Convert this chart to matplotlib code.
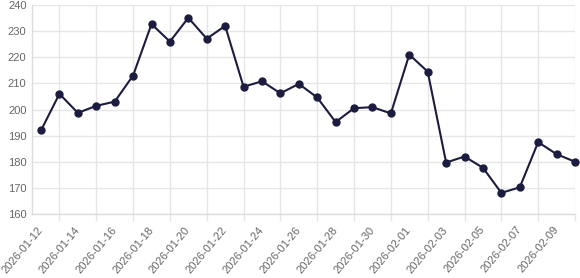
import matplotlib
matplotlib.use("Agg")
import matplotlib.pyplot as plt
import matplotlib.dates as mdates
import numpy as np
from datetime import datetime, timedelta

plt.rcParams['font.family'] = ['Liberation Sans', 'DejaVu Sans']

# daily values
start = datetime(2026, 1, 12)
values = [192, 206, 198.7, 201.4, 203, 213, 232.7, 226, 235.1, 227.1,
          232, 208.7, 210.8, 206.2, 209.8, 204.6, 195.2, 200.5, 200.9, 198.5,
          221, 214.5, 179.7, 182, 177.7, 168.1, 170.2, 187.5, 182.9, 180]
dates = [start + timedelta(days=i) for i in range(len(values))]
label_dates = dates[0::2]
grid_dates = dates[1::2]

grid_col = '#e6e6e6'
line_col = '#1b1c3f'

fig = plt.figure(figsize=(5.8, 2.78), dpi=100)
ax = fig.add_axes([32/580, 1 - 214/278, (575 - 32)/580, (214 - 5)/278])

ax.plot(dates, values, color=line_col, linewidth=1.5, marker='o',
        markersize=5, markeredgewidth=1, markerfacecolor=line_col,
        markeredgecolor=line_col, zorder=3, clip_on=False)

ax.set_xlim(start - timedelta(days=0.49), dates[-1])
ax.set_ylim(160, 240)
ax.set_yticks(np.arange(160, 241, 10))

ax.set_xticks(label_dates)
ax.xaxis.set_major_formatter(mdates.DateFormatter('%Y-%m-%d'))
ax.set_xticks(grid_dates, minor=True)
ax.tick_params(axis='x', which='major', length=0, pad=10, labelsize=8, labelcolor='#666666')
ax.tick_params(axis='x', which='minor', length=5, color=grid_col, width=1)
ax.tick_params(axis='y', length=0, pad=4, labelsize=8, labelcolor='#666666')
for lab in ax.get_xticklabels():
    lab.set_rotation(50)
    lab.set_ha('right')
    lab.set_va('center')
    lab.set_rotation_mode('anchor')

ax.grid(True, which='minor', axis='x', color=grid_col, linewidth=1)
ax.grid(True, which='major', axis='y', color=grid_col, linewidth=1)
ax.set_axisbelow(True)
for side in ['top', 'right']:
    ax.spines[side].set_visible(False)
for side in ['left', 'bottom']:
    ax.spines[side].set_color('#dddddd')
    ax.spines[side].set_linewidth(1)

fig.savefig('out.png', dpi=100)
